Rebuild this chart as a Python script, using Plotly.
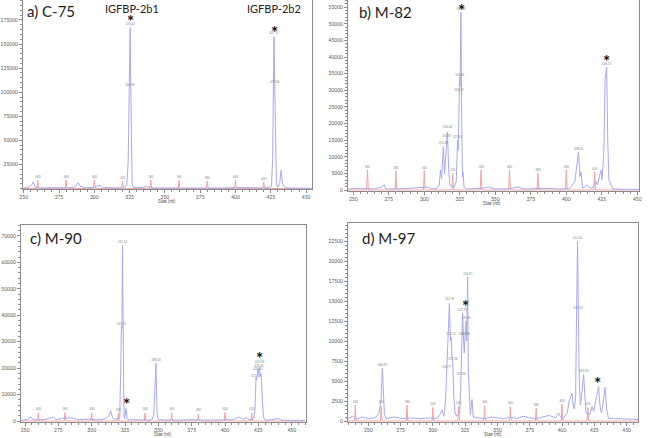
import plotly.graph_objects as go

W, H = 651, 438
BLUE = "#a9a9f2"
RED = "#f4a4a4"
AXIS = "#8c8c8c"
FONT = "Lato"

# ---------------- a) C-75 ----------------
A_BLUE_X = [249.6, 252, 254, 256, 256.9, 258, 262, 268, 275, 282,
            286, 288.7, 290, 294, 300, 304, 306, 312, 318, 321,
            323.0, 324.0, 324.6, 325.0, 325.4, 325.8, 326.2, 326.8, 327.5, 330,
            335, 337, 340, 350, 360, 370, 380, 390, 400, 410,
            418, 422, 425.5, 426.3, 426.8, 427.3, 427.8, 428.3, 429.0, 430,
            431.3, 432.3, 433.3, 435, 440, 450, 454]
A_BLUE_Y = [300, 600, 1500, 4500, 7000, 1500, 500, 800, 400, 700,
            1500, 6000, 2500, 600, 1200, 3500, 800, 500, 700, 900,
            3000, 28000, 95000, 107000, 167000, 110000, 30000, 6000, 1500, 800,
            1000, 2500, 600, 500, 800, 400, 600, 500, 900, 400,
            700, 800, 2000, 30000, 108000, 157500, 109000, 40000, 5000, 1500,
            5000, 19000, 5000, 900, 400, 300, 300]
A_RED_X = [249.6, 259.4, 260, 260.6, 279.4, 280, 280.6, 299.4, 300, 300.6,
           319.4, 320, 320.6, 339.4, 340, 340.6, 359.4, 360, 360.6, 379.4,
           380, 380.6, 399.4, 400, 400.6, 419.4, 420, 420.6, 454]
A_RED_Y = [0, 0, 8500, 0, 0, 9000, 0, 0, 9000, 0,
           0, 7500, 0, 0, 8800, 0, 0, 8800, 0, 0,
           8000, 0, 0, 9000, 0, 0, 7000, 0, 0]
A_TAG_X = [325.4, 325.0, 427.3, 427.8, 260, 280, 300, 320, 340, 360, 380, 400, 420]
A_TAG_Y = [171000, 107500, 161000, 110500, 11500, 12000, 12000, 10500, 11800, 11800, 11000, 12000, 10000]
A_TAG_TEXT = ["325.42", "324.98", "427.31", "427.86", "260", "280", "300", "320", "340", "360", "380", "400", "420"]
A_STAR_X = [325.4, 427.3]
A_STAR_Y = [177000, 165000]
A_YTICKS = [25000, 50000, 75000, 100000, 125000, 150000, 175000]

# ---------------- b) M-82 ----------------
B_BLUE_X = [246.5, 255, 265, 270, 271.8, 273, 285, 295, 302, 305,
            309, 310.5, 311.5, 312.2, 313.4, 314.3, 315.0, 316.3, 317.2, 318.0,
            319.5, 321.0, 322.5, 323.5, 323.9, 324.4, 324.9, 325.2, 325.8, 326.4,
            326.9, 327.3, 328.0, 330, 340, 345, 350, 360, 366, 370,
            385, 395, 402, 406, 408.6, 409.6, 410.4, 411.5, 414.5, 416,
            418, 421, 422, 423.5, 424.4, 425.2, 426.5, 427.3, 427.8, 428.4,
            429.2, 430, 431.5, 433, 440, 451]
B_BLUE_Y = [300, 500, 300, 900, 1600, 300, 400, 600, 900, 300,
            400, 1500, 6000, 3500, 13000, 5000, 9000, 17500, 6000, 1500,
            1000, 800, 2500, 15000, 12000, 30000, 34000, 31000, 53500, 20000,
            4000, 5500, 800, 300, 500, 900, 300, 400, 900, 300,
            500, 300, 400, 2500, 11500, 4000, 5500, 500, 1500, 800,
            500, 2500, 1500, 4500, 6000, 3000, 12000, 33000, 36500, 37000,
            15000, 3000, 1500, 300, 200, 200]
B_RED_X = [246.5, 259.4, 260, 260.6, 279.4, 280, 280.6, 299.4, 300, 300.6,
           319.4, 320, 320.6, 339.4, 340, 340.6, 359.4, 360, 360.6, 379.4,
           380, 380.6, 399.4, 400, 400.6, 419.4, 420, 420.6, 451]
B_RED_Y = [0, 0, 6000, 0, 0, 5800, 0, 0, 5800, 0,
           0, 5000, 0, 0, 6000, 0, 0, 6000, 0, 0,
           5200, 0, 0, 6000, 0, 0, 5500, 0, 0]
B_TAG_X = [313.4, 315.9, 316.4, 323.5, 324.3, 324.9, 325.8, 408.6, 428.3,
           260, 280, 300, 320, 340, 360, 380, 400, 420]
B_TAG_Y = [14000, 16300, 18800, 15800, 30000, 34500, 54500, 12300, 37800,
           6800, 6600, 6600, 5800, 6800, 6800, 6000, 6800, 6300]
B_TAG_TEXT = ["313.38", "315.87", "316.44", "323.51", "324.29", "324.86", "325.83", "408.62", "428.31",
              "260", "280", "300", "320", "340", "360", "380", "400", "420"]
B_STAR_X = [325.9, 428.2]
B_STAR_Y = [54800, 39500]
B_YTICKS = [0, 5000, 10000, 15000, 20000, 25000, 30000, 35000, 40000, 45000, 50000, 55000]

# ---------------- c) M-90 ----------------
C_BLUE_X = [247, 252, 254.5, 256, 260, 265, 271.5, 273, 278, 285,
            290, 298, 305, 310, 313, 314.3, 315.5, 317, 319, 321.0,
            321.8, 322.3, 322.7, 323.1, 323.6, 324.2, 324.8, 325.7, 326.6, 328,
            335, 340, 345, 346.5, 347.2, 348.2, 349.0, 350, 355, 365,
            375, 385, 395, 405, 408, 411.2, 413, 416, 418, 420.5,
            421.5, 422.5, 423.2, 423.7, 424.6, 425.1, 425.8, 426.4, 427.0, 427.8,
            428.8, 430, 435, 439.8, 442, 450, 460]
C_BLUE_Y = [300, 600, 1500, 500, 400, 600, 1500, 500, 1000, 1200,
            500, 700, 400, 800, 2000, 3900, 1500, 600, 900, 1000,
            20000, 36000, 35000, 66500, 30000, 2000, 800, 4800, 800, 400,
            500, 300, 500, 2000, 10000, 21800, 3000, 500, 400, 300,
            500, 300, 400, 500, 900, 1500, 600, 1200, 500, 800,
            800, 5000, 16500, 15500, 19500, 18000, 20500, 17000, 18000, 10000,
            1500, 300, 500, 1000, 300, 200, 200]
C_RED_X = [247, 259.4, 260, 260.6, 279.4, 280, 280.6, 299.4, 300, 300.6,
           319.4, 320, 320.6, 339.4, 340, 340.6, 359.4, 360, 360.6, 379.4,
           380, 380.6, 399.4, 400, 400.6, 419.4, 420, 420.6, 460]
C_RED_Y = [0, 0, 3000, 0, 0, 3200, 0, 0, 3000, 0,
           0, 2800, 0, 0, 3000, 0, 0, 3000, 0, 0,
           2600, 0, 0, 3200, 0, 0, 3000, 0, 0]
C_TAG_X = [323.1, 322.3, 348.2, 423.2, 424.6, 425.4, 426.0,
           260, 280, 300, 320, 340, 360, 380, 400, 420]
C_TAG_Y = [67500, 36500, 23000, 16800, 19700, 20900, 22300,
           4300, 4500, 4300, 4100, 4300, 4300, 3900, 4500, 4300]
C_TAG_TEXT = ["323.14", "322.31", "348.20", "423.18", "424.63", "425.42", "425.96",
              "260", "280", "300", "320", "340", "360", "380", "400", "420"]
C_STAR_X = [326.2, 426.2]
C_STAR_Y = [7200, 24600]
C_YTICKS = [0, 10000, 20000, 30000, 40000, 50000, 60000, 70000]

# ---------------- d) M-97 ----------------
D_BLUE_X = [234.3, 238, 241, 245, 250, 255, 258, 259.8, 260.9, 261.6,
            262.5, 264, 270, 276, 282, 290, 298, 303, 305.5, 306.9,
            308.5, 309.8, 310.8, 311.8, 312.8, 313.6, 314.1, 314.8, 315.4, 316.2,
            317.2, 318.5, 320.0, 320.8, 321.8, 322.4, 323.0, 323.7, 324.3, 325.0,
            325.8, 326.2, 326.9, 327.5, 328.3, 329.0, 330.3, 331.2, 335, 340,
            345, 350, 355, 360, 365, 370, 375, 380, 385, 390,
            395, 397.3, 398.5, 401, 404, 405.5, 407.7, 408.6, 409.5, 410.5,
            411.3, 412.0, 412.6, 413.2, 414.1, 415.0, 416.7, 417.6, 418.5, 421.5,
            423.2, 424.5, 426.0, 427.0, 428.3, 429.3, 430.5, 431.5, 433.3, 434.5,
            436, 440, 450, 458.8]
D_BLUE_Y = [300, 600, 200, 500, 300, 400, 800, 2500, 6600, 3000,
            800, 300, 500, 300, 400, 300, 400, 300, 800, 1400,
            600, 2500, 6300, 9000, 14700, 10000, 10500, 8000, 7300, 3000,
            1000, 600, 800, 1000, 5500, 9000, 13500, 10500, 8500, 11000,
            12500, 10000, 18000, 6000, 1500, 800, 2700, 500, 400, 300,
            500, 400, 300, 500, 300, 600, 400, 300, 500, 700,
            400, 1000, 600, 300, 1000, 2500, 3500, 2000, 1500, 3000,
            14000, 22400, 13800, 6000, 2000, 3000, 5800, 2500, 1000, 800,
            1800, 1200, 2500, 3000, 4300, 2000, 1000, 2000, 4200, 1500,
            300, 300, 200, 200]
D_RED_X = [234.3, 239.4, 240, 240.6, 259.4, 260, 260.6, 279.4, 280, 280.6,
           299.4, 300, 300.6, 319.4, 320, 320.6, 339.4, 340, 340.6, 359.4,
           360, 360.6, 379.4, 380, 380.6, 399.4, 400, 400.6, 419.4, 420,
           420.6, 458.8]
D_RED_Y = [0, 0, 2000, 0, 0, 1800, 0, 0, 2000, 0,
           0, 1700, 0, 0, 1800, 0, 0, 1900, 0, 0,
           1800, 0, 0, 1600, 0, 0, 2100, 0, 0, 1700,
           0, 0]
D_TAG_X = [260.9, 310.8, 312.8, 314.1, 315.4, 321.8, 323.0, 323.7, 325.2, 325.8, 326.9,
           412.0, 412.6, 416.7,
           240, 260, 280, 300, 320, 340, 360, 380, 400, 420]
D_TAG_Y = [7000, 6700, 15200, 10900, 7700, 5900, 13900, 10800, 10900, 12800, 18300,
           22800, 14100, 6200,
           2400, 2300, 2400, 2100, 2200, 2300, 2200, 2000, 2500, 2100]
D_TAG_TEXT = ["260.93", "310.77", "312.78", "314.12", "315.38", "321.84", "322.97", "323.70",
              "325.20", "325.81", "326.93", "412.04", "412.61", "416.70",
              "240", "260", "280", "300", "320", "340", "360", "380", "400", "420"]
D_STAR_X = [325.5, 427.8]
D_STAR_Y = [14700, 5100]
D_YTICKS = [0, 2500, 5000, 7500, 10000, 12500, 15000, 17500, 20000, 22500]

X_TICKS = [250, 275, 300, 325, 350, 375, 400, 425, 450]

PANELS = [
    # box is the plot frame in pixels (left, top, right, bottom)
    dict(title="a) C-75", blue=(A_BLUE_X, A_BLUE_Y), red=(A_RED_X, A_RED_Y),
         tags=(A_TAG_X, A_TAG_Y, A_TAG_TEXT), stars=(A_STAR_X, A_STAR_Y), yticks=A_YTICKS,
         box=(23, 0, 312, 189), xr=[249.5, 454.2], yr=[-520, 195740], ym=5000,
         tpos=(25, 11), spos=(167, 201)),
    dict(title="b) M-82", blue=(B_BLUE_X, B_BLUE_Y), red=(B_RED_X, B_RED_Y),
         tags=(B_TAG_X, B_TAG_Y, B_TAG_TEXT), stars=(B_STAR_X, B_STAR_Y), yticks=B_YTICKS,
         box=(348, 0, 639, 191), xr=[246.3, 451.2], yr=[-300, 57195], ym=1000,
         tpos=(357, 12), spos=(492, 203)),
    dict(title="c) M-90", blue=(C_BLUE_X, C_BLUE_Y), red=(C_RED_X, C_RED_Y),
         tags=(C_TAG_X, C_TAG_Y, C_TAG_TEXT), stars=(C_STAR_X, C_STAR_Y), yticks=C_YTICKS,
         box=(21, 225, 306, 422), xr=[247.0, 460.7], yr=[-378, 74158], ym=2000,
         tpos=(28, 238), spos=(163, 434)),
    dict(title="d) M-97", blue=(D_BLUE_X, D_BLUE_Y), red=(D_RED_X, D_RED_Y),
         tags=(D_TAG_X, D_TAG_Y, D_TAG_TEXT), stars=(D_STAR_X, D_STAR_Y), yticks=D_YTICKS,
         box=(348, 223, 638, 422), xr=[234.3, 458.8], yr=[-125, 24750], ym=500,
         tpos=(360, 238), spos=(493, 434)),
]

fig = go.Figure()
layout = {}
annotations = []

for i, p in enumerate(PANELS):
    n = "" if i == 0 else str(i + 1)
    xa, ya = "x" + n, "y" + n
    l, t, r, b = p["box"]
    common = dict(showgrid=False, zeroline=False, showline=True, linecolor=AXIS,
                  linewidth=1, mirror=True, ticks="outside", ticklen=3, tickcolor=AXIS,
                  automargin=False, tickfont=dict(size=5, color="#555", family=FONT))
    layout["xaxis" + n] = dict(common, domain=[l / W, r / W], range=p["xr"], anchor=ya,
                               tickvals=X_TICKS,
                               minor=dict(dtick=5, tick0=250, ticklen=2, ticks="outside", tickcolor=AXIS))
    layout["yaxis" + n] = dict(common, domain=[1 - b / H, 1 - t / H], range=p["yr"], anchor=xa,
                               tickvals=p["yticks"], tickformat="d",
                               minor=dict(dtick=p["ym"], tick0=0, ticklen=2, ticks="outside", tickcolor=AXIS))

    fig.add_trace(go.Scatter(x=p["red"][0], y=p["red"][1], mode="lines", xaxis=xa, yaxis=ya,
                             line=dict(color=RED, width=1), showlegend=False, hoverinfo="skip"))
    fig.add_trace(go.Scatter(x=p["blue"][0], y=p["blue"][1], mode="lines", xaxis=xa, yaxis=ya,
                             line=dict(color=BLUE, width=1), showlegend=False, hoverinfo="skip"))
    fig.add_trace(go.Scatter(x=p["tags"][0], y=p["tags"][1], text=p["tags"][2], mode="text",
                             xaxis=xa, yaxis=ya, textposition="middle center",
                             textfont=dict(size=3, color="#888", family=FONT),
                             showlegend=False, hoverinfo="skip"))
    for sx, sy in zip(*p["stars"]):
        annotations.append(dict(x=sx, y=sy, xref=xa, yref=ya, text="<b>*</b>", showarrow=False,
                                yanchor="middle", yshift=-3,
                                font=dict(size=17, color="#111", family=FONT)))

    annotations.append(dict(x=p["tpos"][0] / W, y=1 - p["tpos"][1] / H, xref="paper", yref="paper",
                            text=p["title"], showarrow=False, xanchor="left", yanchor="middle",
                            font=dict(size=15, color="#222", family=FONT)))
    annotations.append(dict(x=p["spos"][0] / W, y=1 - p["spos"][1] / H, xref="paper", yref="paper",
                            text="Size (nt)", showarrow=False, xanchor="center", yanchor="middle",
                            font=dict(size=5, color="#555", family=FONT)))

for label, px in [("IGFBP-2b1", 132), ("IGFBP-2b2", 274)]:
    annotations.append(dict(x=px / W, y=1 - 9 / H, xref="paper", yref="paper", text=label,
                            showarrow=False, xanchor="center", yanchor="middle",
                            font=dict(size=11, color="#222", family=FONT)))

fig.update_layout(
    template="none",
    width=W, height=H,
    margin=dict(l=0, r=0, t=0, b=0, autoexpand=False),
    paper_bgcolor="white", plot_bgcolor="white",
    annotations=annotations,
    **layout,
)

# the page's default body margin would push the fixed-size figure off the window
fig.write_html("out.html", config={"displayModeBar": False},
               post_script="document.body.style.margin='0px';")
